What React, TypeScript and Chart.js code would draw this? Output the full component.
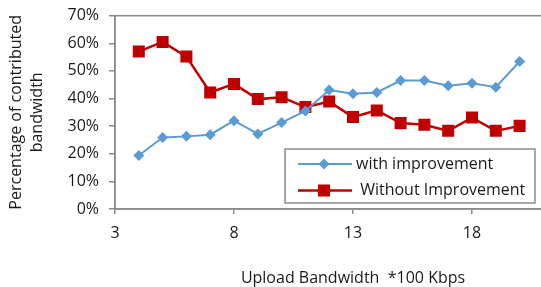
import React, { useEffect, useRef } from 'react';
import { Chart, registerables } from 'chart.js';

Chart.register(...registerables);

const uploadBandwidth = [4, 5, 6, 7, 8, 9, 10, 11, 12, 13, 14, 15, 16, 17, 18, 19, 20];
const withImprovement = [19.4, 25.9, 26.3, 26.9, 32.0, 27.2, 31.3, 35.5, 43.1, 41.7, 42.2, 46.5, 46.5, 44.6, 45.5, 44.1, 53.4];
const withoutImprovement = [57.0, 60.5, 55.2, 42.2, 45.3, 39.8, 40.5, 36.9, 38.9, 33.3, 35.7, 31.1, 30.5, 28.3, 33.1, 28.3, 30.1];
const seriesLabels = ['with improvement', ' Without Improvement'];
const xTitle = 'Upload Bandwidth  *100 Kbps';
const yTitle = ['Percentage of contributed', 'bandwidth'];

const BLUE = '#5B9BD5';
const RED = '#C00000';
const AXIS = '#8A8A8A';
const TEXT = '#1a1a1a';
const FONT = '"Open Sans", "DejaVu Sans", sans-serif';
const FS = 16;

const frameAndLegend = {
  id: 'frameAndLegend',
  beforeDatasetsDraw(chart: any) {
    const { ctx, chartArea } = chart;
    ctx.save();
    ctx.strokeStyle = AXIS;
    ctx.lineWidth = 1.5;
    ctx.strokeRect(chartArea.left, chartArea.top, chartArea.right - chartArea.left, chartArea.bottom - chartArea.top);
    ctx.restore();
  },
  afterDraw(chart: any) {
    const { ctx, chartArea } = chart;
    const x0 = chartArea.left + 170;
    const y0 = chartArea.bottom - 60;
    const w = 250;
    const h = 54;
    ctx.save();
    ctx.fillStyle = '#ffffff';
    ctx.fillRect(x0, y0, w, h);
    ctx.strokeStyle = AXIS;
    ctx.lineWidth = 1.5;
    ctx.strokeRect(x0, y0, w, h);
    chart.data.datasets.forEach((ds: any, i: number) => {
      const cy = y0 + 15 + i * 26.5;
      ctx.strokeStyle = ds.borderColor;
      ctx.lineWidth = ds.borderWidth;
      ctx.beginPath();
      ctx.moveTo(x0 + 13, cy);
      ctx.lineTo(x0 + 67, cy);
      ctx.stroke();
      const mx = x0 + 39;
      const r = ds.pointRadius;
      ctx.fillStyle = ds.backgroundColor;
      ctx.beginPath();
      if (ds.pointStyle === 'rectRot') {
        ctx.moveTo(mx - r, cy);
        ctx.lineTo(mx, cy - r);
        ctx.lineTo(mx + r, cy);
        ctx.lineTo(mx, cy + r);
        ctx.closePath();
      } else {
        const s = r * Math.SQRT1_2;
        ctx.rect(mx - s, cy - s, 2 * s, 2 * s);
      }
      ctx.fill();
      ctx.fillStyle = TEXT;
      ctx.font = `${FS}px ${FONT}`;
      ctx.textBaseline = 'middle';
      ctx.textAlign = 'left';
      ctx.fillText(ds.label, x0 + 71, cy);
    });
    ctx.restore();
  },
};

export default function App() {
  const ref = useRef<HTMLCanvasElement | null>(null);

  useEffect(() => {
    if (!ref.current) return;
    const mk = (ys: number[]) => uploadBandwidth.map((x, i) => ({ x, y: ys[i] }));
    const chart = new Chart(ref.current, {
      type: 'line',
      data: {
        datasets: [
          {
            label: seriesLabels[0],
            data: mk(withImprovement),
            borderColor: BLUE,
            backgroundColor: BLUE,
            borderWidth: 2,
            pointStyle: 'rectRot',
            pointRadius: 5.5,
            pointBorderWidth: 0,
            tension: 0,
          },
          {
            label: seriesLabels[1],
            data: mk(withoutImprovement),
            borderColor: RED,
            backgroundColor: RED,
            borderWidth: 2.5,
            pointStyle: 'rect',
            pointRadius: 8.5,
            pointBorderWidth: 0,
            tension: 0,
          },
        ],
      },
      options: {
        responsive: false,
        animation: false,
        layout: { padding: { top: 15.7, right: 9, left: 0, bottom: 0 } },
        plugins: {
          legend: { display: false },
          tooltip: { enabled: false },
        },
        scales: {
          x: {
            type: 'linear',
            min: 3,
            max: 23,
            ticks: { stepSize: 5, color: TEXT, font: { family: FONT, size: FS }, padding: 10 },
            grid: { drawOnChartArea: false, drawTicks: true, tickLength: 5, color: AXIS, lineWidth: 1.5 },
            border: { color: AXIS, width: 1.5 },
            title: {
              display: true,
              text: xTitle,
              color: TEXT,
              font: { family: FONT, size: FS, lineHeight: 1.1 },
              padding: { top: 0, bottom: 0 },
            },
            afterFit: (scale: any) => {
              scale.height = 78;
              scale.paddingLeft = 0;
              scale.paddingRight = 0;
            },
          },
          y: {
            min: 0,
            max: 70,
            ticks: {
              stepSize: 10,
              color: TEXT,
              font: { family: FONT, size: FS },
              padding: 10,
              callback: (v: any) => `${v}%`,
            },
            grid: { drawOnChartArea: false, drawTicks: true, tickLength: 6, color: AXIS, lineWidth: 1.5 },
            border: { color: AXIS, width: 1.5 },
            title: {
              display: true,
              text: yTitle,
              color: TEXT,
              font: { family: FONT, size: FS, lineHeight: 1.3 },
              padding: { top: 6.5, bottom: 0 },
            },
            afterFit: (scale: any) => {
              scale.width = 115;
              scale.paddingTop = 0;
              scale.paddingBottom = 0;
            },
          },
        },
      },
      plugins: [frameAndLegend],
    });
    return () => chart.destroy();
  }, []);

  return (
    <div style={{ position: 'fixed', left: 0, top: 0, width: 541, height: 287, overflow: 'hidden', background: '#fff' }}>
      <canvas ref={ref} width={600} height={287} style={{ width: 600, height: 287, display: 'block' }} />
    </div>
  );
}
